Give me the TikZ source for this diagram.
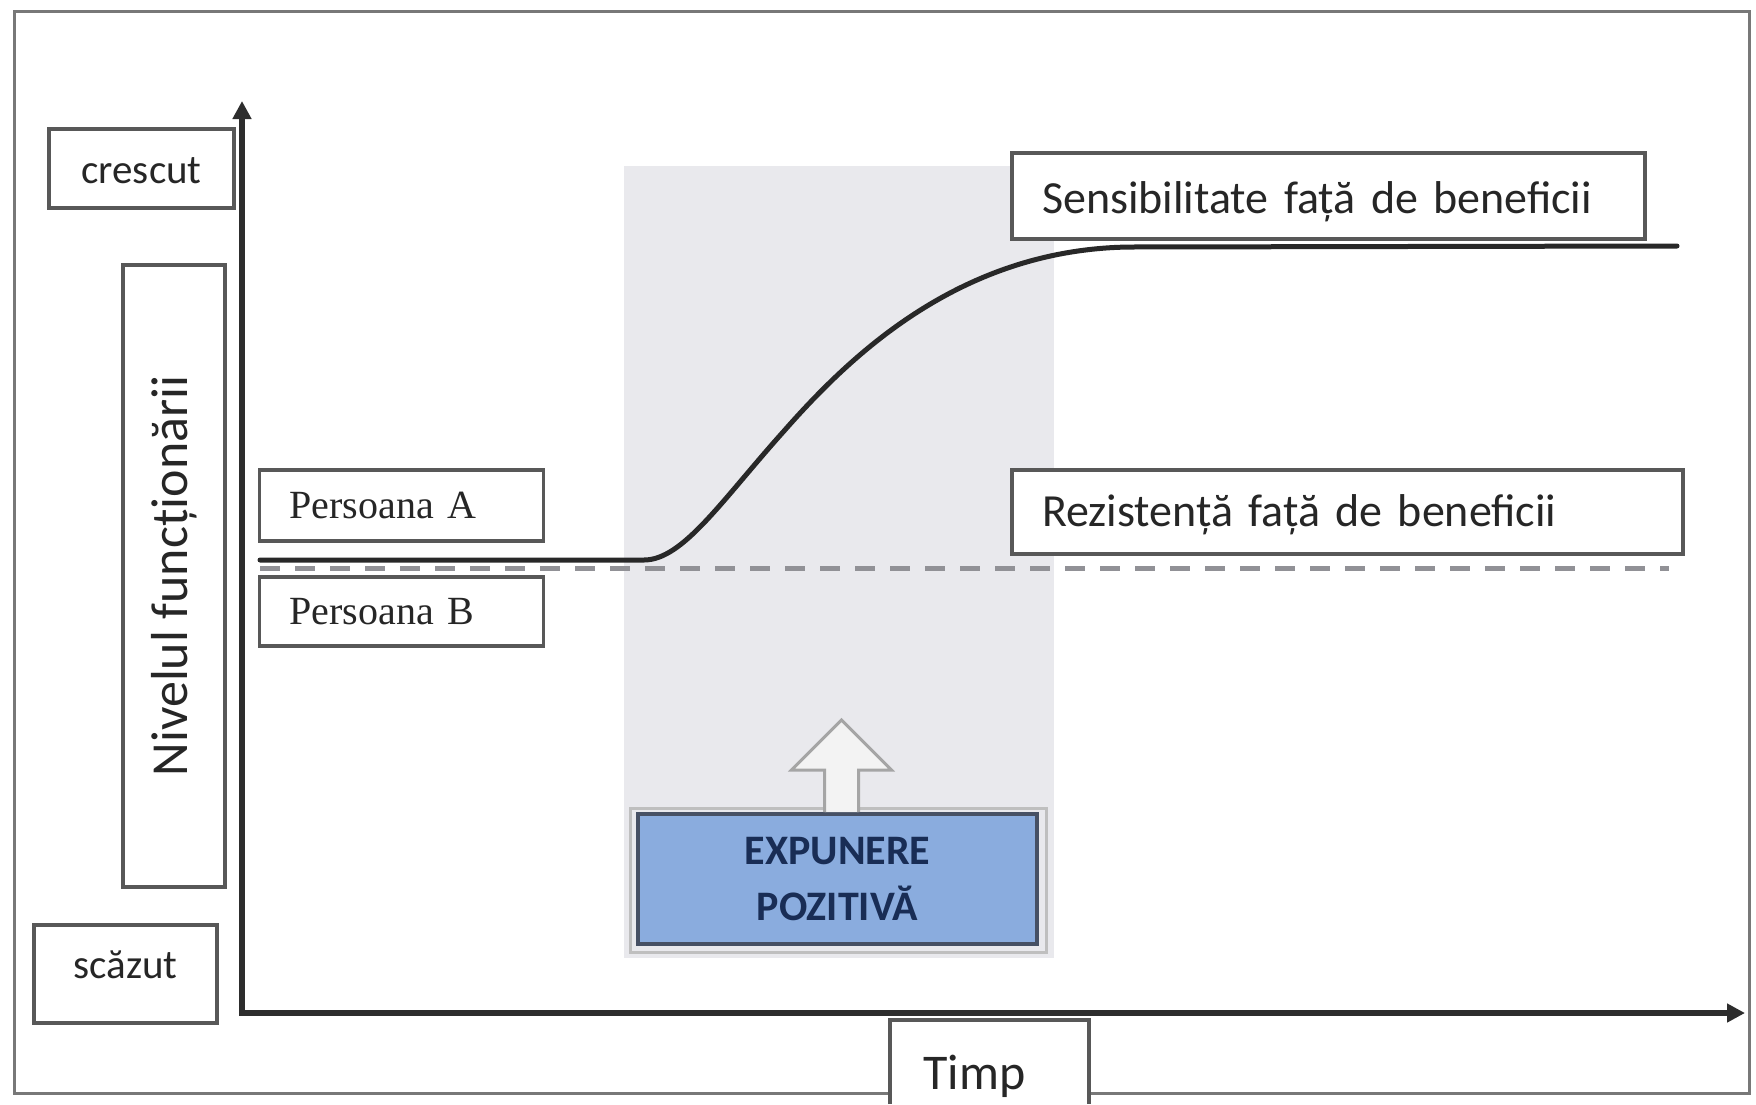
\documentclass[tikz,border=0pt]{standalone}
\usepackage{fontspec}
\setmainfont{Carlito}
\newfontfamily\serifB{Liberation Serif}
\usetikzlibrary{arrows.meta}

\definecolor{framec}{RGB}{120,120,120}
\definecolor{boxline}{RGB}{88,88,88}
\definecolor{axisc}{RGB}{45,45,45}
\definecolor{txt}{RGB}{38,38,38}
\definecolor{shadec}{RGB}{233,233,237}
\definecolor{expfill}{RGB}{138,172,222}
\definecolor{expline}{RGB}{70,80,100}
\definecolor{exptxt}{RGB}{25,45,85}
\definecolor{dashc}{RGB}{145,145,150}
\definecolor{curvec}{RGB}{40,40,40}
\definecolor{arrowline}{RGB}{165,165,165}
\definecolor{arrowfill}{RGB}{243,243,243}

\newcommand{\vmove}[2]{\raisebox{#1}[\height][\depth]{#2}}

\begin{document}
\begin{tikzpicture}[x=1pt,y=-1pt,
  lbl/.style={draw=boxline,line width=3.5pt,fill=white,inner sep=0pt,text=txt},
  leftlbl/.style={lbl,inner xsep=30pt,align=left},
  f41/.style={font=\fontsize{41}{45}\selectfont},
  f46/.style={font=\fontsize{46}{50}\selectfont},
  fser/.style={font=\serifB\fontsize{40}{44}\selectfont},
  axisline/.style={draw=axisc,line width=6pt,line join=miter},
  ]
\useasboundingbox (0,0) rectangle (1756,1104);
\fill[white] (0,0) rectangle (1756,1104);
\draw[framec,line width=3pt] (14,11) rectangle (1749,1093);

% shaded exposure band
\fill[shadec] (624,166) rectangle (1054,958);

% exposure box
\draw[black!25,line width=3pt] (630,808) rectangle (1046,952);
\node[draw=expline,line width=4pt,fill=expfill,minimum width=399pt,minimum height=130pt,
      align=center,text=exptxt,inner sep=0pt,
      font=\bfseries\fontsize{42}{56}\selectfont] (exp) at (837.5,879) {EXPUNERE\\POZITIVĂ};

% hollow block arrow
\draw[arrowline,fill=arrowfill,line width=3pt,line join=miter]
  ([xshift=-13pt]exp.north) -- ++(0,-42) -- ++(-33,0) -- ++(50,-50) -- ++(50,50) -- ++(-33,0) -- ++(0,42);

% axes
\coordinate (O) at (242,1013);
\coordinate (Ytip) at (242,101);
\coordinate (Xtip) at (1745,1013);
\draw[axisline,{Triangle[length=18pt,width=18pt]}-{Triangle[length=18pt,width=18pt]}] (Ytip) -- (O) -- (Xtip);

% dashed resistance line
\coordinate (dA) at (260,568);
\coordinate (dB) at (1669,568);
\draw[dashc,line width=5pt,dash pattern=on 20pt off 15pt] (dA) -- (dB);

% sensitivity curve
\coordinate (c0) at (260,560);
\coordinate (c1) at (644,560);
\coordinate (c2) at (784,431);
\coordinate (c3) at (1130,247);
\coordinate (c4) at (1677,246);
\draw[curvec,line width=5pt,line cap=round]
  (c0) -- (c1) .. controls (683,560) and (722,500) .. (c2)
  .. controls (850,356) and (960,249) .. (c3) -- (c4);

% axis labels
\node[lbl,f41,minimum width=185pt,minimum height=79pt] (cres) at (141.5,168.5) {\vmove{-2pt}{crescut}};
\node[lbl,f41,minimum width=183pt,minimum height=98pt] (scaz) at (125.5,974) {\vmove{9pt}{scăzut}};
\node[lbl,rotate=90,minimum width=622pt,minimum height=102pt,
      font=\fontsize{52}{56}\selectfont] (niv) at (174,576) {Nivelul funcționării};

% time label (open at the bottom)
\node[fill=white,inner sep=0pt,minimum width=199pt,minimum height=84pt,text=txt,
      font=\fontsize{50}{54}\selectfont] (timp) at (989.5,1062) {\hspace*{-30pt}\vmove{-14pt}{Timp}};
\draw[boxline,line width=3.5pt] (timp.south west) -- (timp.north west) -- (timp.north east) -- (timp.south east);

% persons
\node[leftlbl,fser,text width=224pt,minimum height=71pt] (pA) at (401.5,505.5) {Persoana A};
\node[leftlbl,fser,text width=224pt,minimum height=69pt] (pB) at (401.5,611.5) {Persoana B};

% curve labels
\node[leftlbl,f46,text width=573pt,minimum height=86pt] (sens) at (1328.5,196) {\vmove{-6pt}{Sensibilitate față de beneficii}};
\node[leftlbl,f46,text width=611pt,minimum height=84pt] (rez) at (1347.5,512) {\vmove{-3pt}{Rezistență față de beneficii}};
\end{tikzpicture}
\end{document}
